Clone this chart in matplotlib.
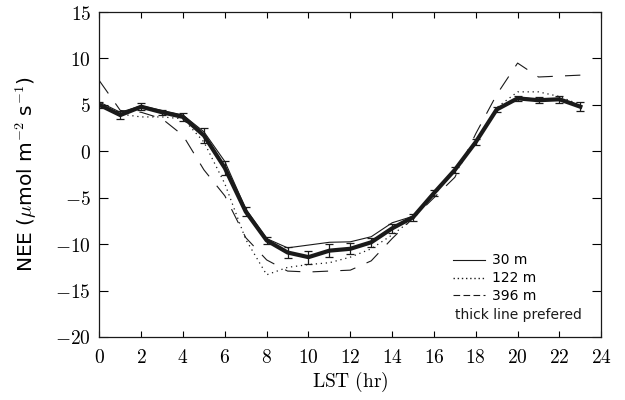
import numpy as np
import matplotlib
matplotlib.use("Agg")
import matplotlib.pyplot as plt
from matplotlib.lines import Line2D

plt.rcParams["mathtext.fontset"] = "cm"

hours = np.arange(24)

# thick line (preferred) with error bars
nee_pref = [5.0, 3.9, 4.8, 4.2, 3.7, 1.7, -1.8, -6.5, -9.6, -10.9, -11.4, -10.7,
            -10.5, -9.8, -8.3, -7.1, -4.5, -2.0, 1.0, 4.5, 5.7, 5.5, 5.6, 4.8]
nee_err = [0.3, 0.4, 0.4, 0.3, 0.4, 0.8, 0.8, 0.5, 0.4, 0.6, 0.7, 0.7,
           0.6, 0.5, 0.5, 0.4, 0.3, 0.3, 0.3, 0.3, 0.3, 0.3, 0.4, 0.5]

# 30 m
nee_30 = [5.3, 4.2, 4.9, 4.4, 3.9, 2.1, -1.1, -6.2, -9.4, -10.4, -10.1, -9.8,
          -9.75, -9.2, -7.7, -7.0, -4.4, -1.9, 1.0, 4.5, 5.8, 5.6, 5.7, 4.9]
# 122 m
nee_122 = [5.0, 4.0, 3.7, 3.7, 3.5, 1.0, -3.5, -9.5, -13.3, -12.5, -12.2, -12.0,
           -11.4, -10.5, -9.0, -7.3, -4.5, -2.0, 1.0, 4.7, 6.4, 6.4, 5.9, 5.0]
# 396 m
nee_396 = [7.6, 4.4, 4.2, 3.5, 1.7, -2.0, -4.8, -9.3, -11.7, -12.9, -13.0, -12.9,
           -12.8, -11.8, -9.4, -7.2, -5.0, -2.8, 1.9, 6.1, 9.5, 8.0, 8.1, 8.2]

xticks = list(range(0, 25, 2))
yticks = [-20, -15, -10, -5, 0, 5, 10, 15]

ink = "#1a1a1a"

fig = plt.figure(figsize=(6.25, 4.0), dpi=100)
ax = fig.add_axes([0.159, 0.1575, 0.803, 0.8125])

ax.plot(hours, nee_30, color=ink, lw=0.8)
ax.plot(hours, nee_122, color=ink, lw=0.9, dashes=(1, 3))
ax.plot(hours, nee_396, color=ink, lw=0.8, dashes=(14, 11))
ax.errorbar(hours, nee_pref, yerr=nee_err, color=ink, lw=3.0,
            elinewidth=0.9, capsize=3, capthick=0.9)

ax.set_xlim(0, 24)
ax.set_ylim(-20, 15)
ax.set_xticks(xticks)
ax.set_xticklabels([f"${v}$" for v in xticks], fontsize=14)
ax.set_yticks(yticks)
ax.set_yticklabels([f"${v}$" for v in yticks], fontsize=14)
ax.tick_params(axis="x", direction="in", length=4.5, top=True, pad=8, width=0.8)
ax.tick_params(axis="y", direction="in", length=6.5, right=True, pad=6, width=0.8)
for s in ax.spines.values():
    s.set_linewidth(0.9)
    s.set_color(ink)

ax.set_xlabel(r"$\mathrm{LST\ (hr)}$", fontsize=14, labelpad=2)
ax.set_ylabel("NEE ($\\mu$mol m$^{\\mathsf{-2}}$ s$^{\\mathsf{-1}}$)",
              fontsize=14.5, labelpad=12)

handles = [
    Line2D([], [], color=ink, lw=0.8),
    Line2D([], [], color=ink, lw=1.0, dashes=(1, 2)),
    Line2D([], [], color=ink, lw=0.8, dashes=(6, 3)),
]
ax.legend(handles, ["30 m", "122 m", "396 m"], loc="upper left",
          bbox_to_anchor=(0.705, 0.257), frameon=False, fontsize=10,
          handlelength=2.3, handletextpad=0.5, labelspacing=0.28,
          borderpad=0, borderaxespad=0)
ax.text(0.709, 0.068, "thick line prefered", transform=ax.transAxes,
        fontsize=10, va="center", ha="left", color=ink)

fig.savefig("out.png", dpi=100)
